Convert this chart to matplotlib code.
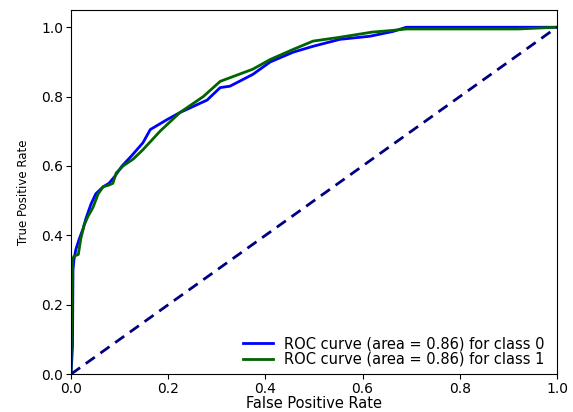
import matplotlib
matplotlib.use('Agg')
import matplotlib.pyplot as plt

# ==========================
# Dados
# ==========================
fpr_0 = [0.0, 0.003, 0.004, 0.006, 0.010, 0.017, 0.025, 0.031, 0.041, 0.051,
         0.066, 0.078, 0.090, 0.105, 0.125, 0.148, 0.163, 0.198, 0.224, 0.280,
         0.307, 0.327, 0.374, 0.410, 0.457, 0.498, 0.553, 0.615, 0.663, 0.690,
         0.924, 1.0]
tpr_0 = [0.0, 0.08, 0.30, 0.33, 0.36, 0.39, 0.42, 0.45, 0.49, 0.52,
         0.54, 0.55, 0.57, 0.60, 0.63, 0.667, 0.705, 0.734, 0.754, 0.79,
         0.826, 0.83, 0.864, 0.90, 0.928, 0.945, 0.965, 0.974, 0.988, 1.0,
         1.0, 1.0]

fpr_1 = [0.0, 0.0, 0.003, 0.006, 0.015, 0.020, 0.027, 0.035, 0.045, 0.056,
         0.066, 0.078, 0.086, 0.093, 0.107, 0.128, 0.148, 0.183, 0.224, 0.272,
         0.307, 0.374, 0.410, 0.457, 0.498, 0.553, 0.620, 0.663, 0.690, 0.920,
         1.0]
tpr_1 = [0.0, 0.03, 0.33, 0.34, 0.345, 0.39, 0.43, 0.455, 0.48, 0.52,
         0.54, 0.545, 0.55, 0.58, 0.60, 0.62, 0.647, 0.70, 0.754, 0.80,
         0.844, 0.879, 0.907, 0.936, 0.96, 0.971, 0.986, 0.991, 0.995, 0.995,
         1.0]

auc_0 = 0.86
auc_1 = 0.86

# ==========================
# Figura
# ==========================
plt.figure(figsize=(5.73, 4.12), dpi=100)
plt.subplots_adjust(left=0.124, right=0.972, top=0.976, bottom=0.092)

plt.plot(fpr_0, tpr_0, color='blue', lw=2,
         label=f'ROC curve (area = {auc_0:.2f}) for class 0')
plt.plot(fpr_1, tpr_1, color='darkgreen', lw=2,
         label=f'ROC curve (area = {auc_1:.2f}) for class 1')
plt.plot([0, 1], [0, 1], color='navy', lw=2, linestyle='--', dashes=(4, 2.5))

plt.xlim([0.0, 1.0])
plt.ylim([0.0, 1.05])
plt.xticks(fontsize=10)
plt.yticks(fontsize=10)
plt.tick_params(pad=2)
plt.xlabel('False Positive Rate', fontsize=10.5, labelpad=0)
plt.ylabel('True Positive Rate', fontsize=8.5, labelpad=8)
plt.legend(loc='lower right', bbox_to_anchor=(0.99, 0.0), fontsize=10.5,
           frameon=False, labelspacing=0.05, borderaxespad=0.1)

plt.savefig('out.png', dpi=100)
plt.close()
